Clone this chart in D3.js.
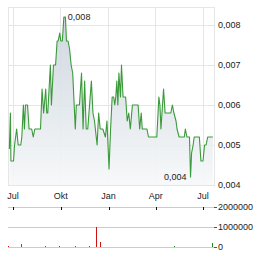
<!DOCTYPE html>
<html><head><meta charset="utf-8">
<script src="https://cdn.jsdelivr.net/npm/d3@7"></script>
<style>html,body{margin:0;padding:0;background:#fff;}svg{display:block;font-family:Arial,"Liberation Sans",sans-serif;}</style>
</head><body>
<svg id="c" width="264" height="255"></svg>
<script>
const dates = ["2023-06-24","2023-06-26","2023-06-27","2023-07-02","2023-07-04","2023-07-08","2023-07-11","2023-07-16","2023-07-18","2023-07-21","2023-07-23","2023-07-25","2023-07-29","2023-08-01","2023-08-06","2023-08-09","2023-08-12","2023-08-23","2023-08-26","2023-08-29","2023-09-02","2023-09-04","2023-09-06","2023-09-11","2023-09-13","2023-09-17","2023-09-21","2023-09-24","2023-09-26","2023-09-29","2023-10-01","2023-10-04","2023-10-07","2023-10-10","2023-10-12","2023-10-15","2023-10-18","2023-10-21","2023-10-24","2023-10-29","2023-10-31","2023-11-06","2023-11-10","2023-11-13","2023-11-16","2023-11-19","2023-11-22","2023-11-29","2023-12-02","2023-12-05","2023-12-10","2023-12-13","2023-12-16","2023-12-21","2023-12-26","2023-12-29","2024-01-02","2024-01-05","2024-01-08","2024-01-11","2024-01-13","2024-01-15","2024-01-17","2024-01-19","2024-01-21","2024-01-24","2024-01-26","2024-01-29","2024-02-03","2024-02-06","2024-02-09","2024-02-12","2024-02-16","2024-02-27","2024-03-01","2024-03-04","2024-03-06","2024-03-15","2024-03-18","2024-04-03","2024-04-07","2024-04-09","2024-04-11","2024-04-14","2024-04-16","2024-04-19","2024-04-30","2024-05-03","2024-05-06","2024-05-10","2024-05-12","2024-05-16","2024-05-26","2024-05-28","2024-05-31","2024-06-05","2024-06-07","2024-06-09","2024-06-12","2024-06-14","2024-06-24","2024-06-27","2024-07-01","2024-07-04","2024-07-07","2024-07-10","2024-07-20"];
const prices = [0.0049,0.0058,0.0046,0.0046,0.0050,0.0054,0.0050,0.0050,0.0052,0.0060,0.0054,0.0060,0.0060,0.0054,0.0054,0.0052,0.0054,0.0054,0.0064,0.0058,0.0064,0.0058,0.0058,0.0070,0.0060,0.0070,0.0070,0.0076,0.0076,0.0078,0.0076,0.0076,0.0082,0.0082,0.0076,0.0076,0.0074,0.0070,0.0068,0.0054,0.0060,0.0060,0.0068,0.0054,0.0066,0.0054,0.0054,0.0066,0.0058,0.0056,0.0050,0.0058,0.0054,0.0054,0.0052,0.0056,0.0044,0.0054,0.0062,0.0062,0.0060,0.0062,0.0066,0.0060,0.0068,0.0062,0.0070,0.0062,0.0062,0.0056,0.0058,0.0054,0.0060,0.0060,0.0054,0.0058,0.0054,0.0054,0.0052,0.0052,0.0062,0.0060,0.0054,0.0060,0.0064,0.0058,0.0058,0.0060,0.0058,0.0056,0.0054,0.0052,0.0052,0.0054,0.0052,0.0052,0.0042,0.0048,0.0050,0.0052,0.0052,0.0046,0.0046,0.0050,0.0050,0.0052,0.0052];
const volDates = ["2023-06-21","2023-07-16","2023-09-01","2023-09-28","2023-10-29","2023-11-24","2023-12-08","2023-12-15","2024-05-07","2024-07-18"];
const volValues = [50000,150000,30000,30000,30000,30000,1020000,265000,30000,185000];
const volUp = [false,true,true,false,true,true,false,false,true,true];
const monthTicks = ["2023-07-01","2023-10-01","2024-01-01","2024-04-01","2024-07-01"];
const monthLabels = ["Jul","Okt","Jan","Apr","Jul"];
const priceTicks = [0.004,0.005,0.006,0.007,0.008];
const volTicks = [0,1000000,2000000];

const parse = d3.timeParse("%Y-%m-%d");
const data = dates.map((d,i)=>({date:parse(d), v:prices[i]}));
const svg = d3.select("#c");
const L=8, R=214, T=7, B=185;
const x = d3.scaleTime().domain([parse("2023-07-01"), parse("2024-07-01")]).range([13,203]);
const y = d3.scaleLinear().domain([0.004,0.008]).range([185,25]);
const yv = d3.scaleLinear().domain([0,2000000]).range([247,207]);
const fmt = v => d3.format(".3f")(v).replace(".", ",");

const defs = svg.append("defs");
const g = defs.append("linearGradient").attr("id","gr").attr("gradientUnits","userSpaceOnUse")
  .attr("x1",0).attr("y1",T).attr("x2",0).attr("y2",B);
g.append("stop").attr("offset",0).attr("stop-color","#c6d0da");
g.append("stop").attr("offset",1).attr("stop-color","#f6f8f9");
defs.append("clipPath").attr("id","cp").append("rect").attr("x",L).attr("y",T).attr("width",R-L).attr("height",B-T);

// grid
const grid = svg.append("g").attr("stroke","#e6e6e6").attr("stroke-width",1).attr("shape-rendering","crispEdges");
priceTicks.forEach(t=>grid.append("line").attr("x1",L).attr("x2",R).attr("y1",y(t)).attr("y2",y(t)));
monthTicks.forEach(t=>grid.append("line").attr("x1",x(parse(t))).attr("x2",x(parse(t))).attr("y1",T).attr("y2",B));
grid.append("rect").attr("x",L).attr("y",T).attr("width",R-L).attr("height",B-T).attr("fill","none");

const plot = svg.append("g").attr("clip-path","url(#cp)");
plot.append("path").datum(data)
  .attr("d", d3.area().x(d=>x(d.date)).y0(B).y1(d=>y(d.v)))
  .attr("fill","url(#gr)").attr("opacity",0.9);
plot.append("path").datum(data)
  .attr("d", d3.line().x(d=>x(d.date)).y(d=>y(d.v)))
  .attr("fill","none").attr("stroke","#3a9a3a").attr("stroke-width",1.1).attr("stroke-linejoin","round");

// price axis labels
const ax = svg.append("g").attr("font-size","9px").attr("fill","#222");
priceTicks.forEach(t=>ax.append("text").attr("x",218).attr("y",y(t)+3.3).text(fmt(t)));
monthTicks.forEach((t,i)=>ax.append("text").attr("x",x(parse(t))).attr("y",198.5).attr("text-anchor","middle").text(monthLabels[i]));

// max/min labels
const maxD = data.reduce((a,b)=> b.v>a.v?b:a);
const minD = data.reduce((a,b)=> b.v<a.v?b:a);
ax.append("text").attr("x",x(maxD.date)+4).attr("y",y(maxD.v)+3.3).text(fmt(maxD.v));
ax.append("text").attr("x",x(minD.date)-4).attr("y",y(minD.v)+3.3).attr("text-anchor","end").text(fmt(minD.v));

// volume
const vg = svg.append("g").attr("shape-rendering","crispEdges");
volTicks.forEach(t=>{
  vg.append("line").attr("x1",L).attr("x2",R).attr("y1",yv(t)).attr("y2",yv(t)).attr("stroke","#cccccc");
  vg.append("line").attr("x1",R).attr("x2",R+3).attr("y1",yv(t)).attr("y2",yv(t)).attr("stroke","#555");
  ax.append("text").attr("x",218).attr("y",yv(t)+3.3).text(t);
});
monthTicks.forEach(t=>vg.append("line").attr("x1",Math.round(x(parse(t)))+0.5).attr("x2",Math.round(x(parse(t)))+0.5).attr("y1",yv(2000000)).attr("y2",yv(2000000)+3).attr("stroke","#111"));
volDates.forEach((d,i)=>{
  const xx = Math.round(x(parse(d)));
  vg.append("rect").attr("x",xx).attr("width",1).attr("y",yv(volValues[i])).attr("height",yv(0)-yv(volValues[i]))
    .attr("fill", volUp[i] ? "#1a8a1a" : "#cc1111");
});
</script>
</body></html>
